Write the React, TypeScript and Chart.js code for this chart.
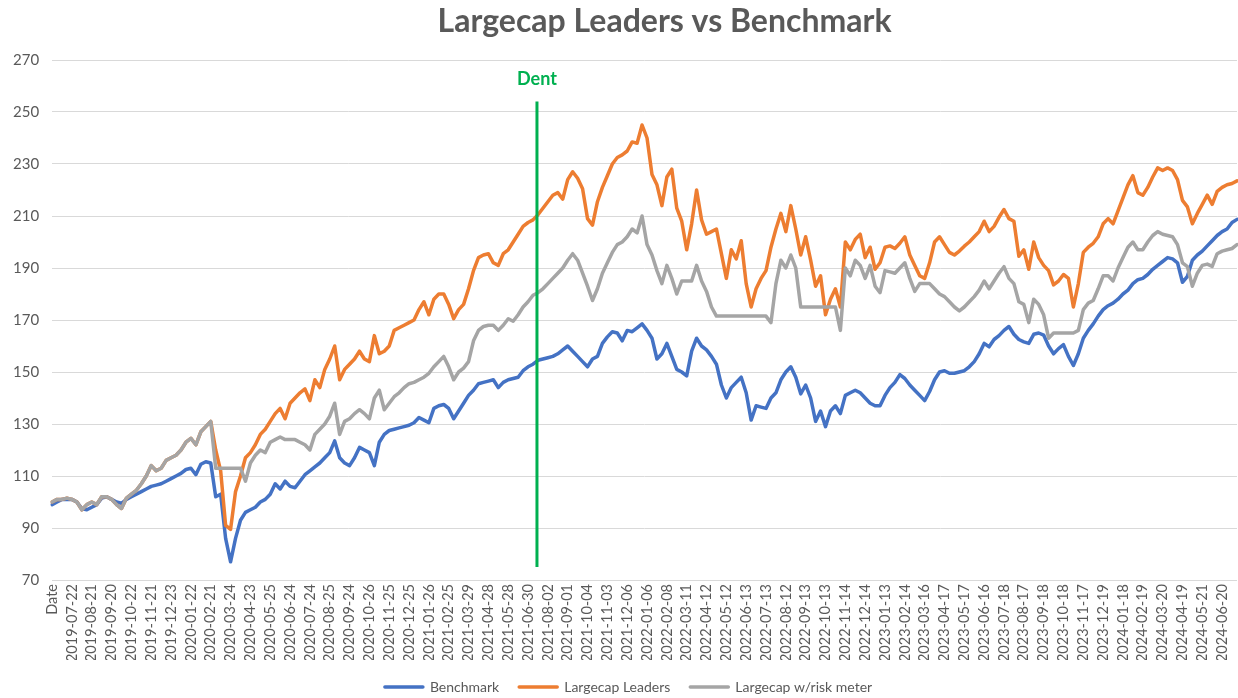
import React, { useEffect, useRef } from "react";
import { Chart, registerables } from "chart.js";

Chart.register(...registerables);

const TITLE = "Largecap Leaders vs Benchmark";
const DENT_LABEL = "Dent";

const tickLabels = [
  "Date", "2019-07-22", "2019-08-21", "2019-09-20", "2019-10-22", "2019-11-21", "2019-12-23",
  "2020-01-22", "2020-02-21", "2020-03-24", "2020-04-23", "2020-05-25", "2020-06-24", "2020-07-24",
  "2020-08-25", "2020-09-24", "2020-10-26", "2020-11-25", "2020-12-25", "2021-01-26", "2021-02-25",
  "2021-03-29", "2021-04-28", "2021-05-28", "2021-06-30", "2021-08-02", "2021-09-01", "2021-10-04",
  "2021-11-03", "2021-12-06", "2022-01-06", "2022-02-08", "2022-03-11", "2022-04-12", "2022-05-12",
  "2022-06-13", "2022-07-13", "2022-08-12", "2022-09-13", "2022-10-13", "2022-11-14", "2022-12-14",
  "2023-01-13", "2023-02-14", "2023-03-16", "2023-04-17", "2023-05-17", "2023-06-16", "2023-07-18",
  "2023-08-17", "2023-09-18", "2023-10-18", "2023-11-17", "2023-12-19", "2024-01-18", "2024-02-19",
  "2024-03-20", "2024-04-19", "2024-05-21", "2024-06-20",
];

// points between two consecutive tick labels
const POINTS_PER_TICK = 4;

const benchmark = [
  99, 100, 101, 101, 101, 100, 97.5, 97, 98, 99,
  101.5, 102, 101, 100, 99.5, 101, 102, 103, 104, 105,
  106, 106.5, 107, 108, 109, 110, 111, 112.5, 113, 110.5,
  114.5, 115.5, 115, 102, 103, 86, 77, 86, 93, 96,
  97, 98, 100, 101, 103, 107, 105, 108, 106, 105.5,
  108, 110.5, 112, 113.5, 115, 117, 119, 123.5, 117, 115,
  114, 117, 121, 120, 119, 114, 123, 126, 127.5, 128,
  128.5, 129, 129.5, 130.5, 132.5, 131.5, 130.5, 136, 137, 137.5,
  136, 132, 135, 138, 141, 143, 145.5, 146, 146.5, 147,
  144, 146, 147, 147.5, 148, 150.5, 152, 153, 154.5, 155,
  155.5, 156, 157, 158.5, 160, 158, 156, 154, 152, 155,
  156, 161, 163.5, 165.5, 165, 162, 166, 165.5, 167, 168.5,
  166, 163, 155, 157, 161, 156, 151, 150, 148.5, 158,
  163, 160, 158.5, 156, 153, 145, 140, 144, 146, 148,
  142, 131.5, 137, 136.5, 136, 140, 142, 147, 150, 152,
  148, 141.6, 145, 140, 131, 135, 129, 135, 137, 134,
  141, 142, 143, 142, 140, 138, 137, 137, 141, 144,
  146, 149, 147.5, 145, 143, 141, 139, 142.5, 147, 150,
  150.5, 149.5, 149.5, 150, 150.5, 152, 154, 157, 161, 159.7,
  162.5, 164, 166, 167.5, 164.5, 162.5, 161.6, 161, 164.5, 165,
  164.2, 160, 157, 159, 160.5, 156, 152.5, 157, 163, 166,
  168.5, 171.5, 174, 175.5, 176.5, 178, 180, 181.5, 184, 185.5,
  186, 187.5, 189.5, 191, 192.5, 194, 193.5, 192, 184.5, 186.8,
  193, 195, 196.5, 198.5, 200.5, 202.5, 204, 205, 207.5, 208.7,
];

const largecapLeaders = [
  100, 101, 101, 101.5, 101, 100, 97, 99, 100, 99,
  102, 102, 101, 99, 97.5, 101.5, 103, 104.5, 107, 110,
  114, 112, 113, 116, 117, 118, 120, 123, 124.5, 122,
  127, 129, 131, 120, 112, 91, 89.5, 104, 110, 117,
  119, 122, 126, 128, 131, 134, 136, 132, 138, 140,
  142, 143.5, 139, 147, 144, 151, 155, 160, 147, 151,
  153, 155, 158, 155, 154, 164, 157, 158, 160, 166,
  167, 168, 169, 170, 174, 177, 172, 178, 180, 180,
  176, 170.5, 174, 176, 182, 189, 194, 195, 195.5, 192,
  191, 195.5, 197, 200, 203, 206, 207.5, 208.5, 210.5, 213,
  215.5, 218, 219, 216.5, 224, 227, 224.5, 220.5, 209, 206.5,
  215.5, 221, 225.5, 230, 232.5, 233.5, 235, 238.5, 238, 245,
  240, 226, 222, 214, 225, 228, 213, 208, 197, 207,
  220, 208.5, 203, 204, 205, 195.5, 186, 197, 193.5, 200.5,
  184, 175, 182, 186, 189, 198, 205, 211, 204, 214,
  205, 195, 202, 193, 183, 187, 172, 178, 182, 175,
  200, 197, 201, 203, 194, 198, 189.5, 192, 198, 198.5,
  197.5, 199.5, 202, 195, 191, 187, 186, 192, 200, 202,
  199, 196, 195, 196.5, 198.4, 200, 202, 204, 208, 204,
  206, 209.5, 212.5, 209, 208, 194.5, 197, 189.5, 200, 194,
  191, 189, 183.5, 185, 187.5, 186, 175, 184, 196, 198,
  199.5, 202, 207, 209, 207, 212, 217, 222, 225.5, 219,
  218, 221, 225, 228.5, 227.5, 228.5, 227.5, 224, 216, 213.5,
  207, 211, 214.5, 218, 214.5, 219.5, 221, 222, 222.5, 223.5,
];

const largecapRiskMeter = [
  100, 101, 101, 101.5, 101, 100, 97, 99, 100, 99,
  102, 102, 101, 99, 97.5, 101.5, 103, 104.5, 107, 110,
  114, 112, 113, 116, 117, 118, 120, 123, 124.5, 122,
  127, 129, 131, 113, 113, 113, 113, 113, 113, 108,
  115, 118, 120, 119, 123, 124, 125, 124, 124, 124,
  123, 122, 120, 126, 128, 130, 133, 138, 126, 131,
  132, 134, 135.5, 134, 132, 140, 143, 135.5, 138, 140.5,
  142, 144, 145.5, 146, 147, 148, 149.5, 152, 154, 156,
  152, 147, 150, 151.5, 154, 162, 166, 167.5, 168, 168,
  166, 168, 170.5, 169.5, 172, 175, 177, 179.5, 180.5, 182,
  184, 186, 188, 190, 193, 195.5, 193, 188, 183, 177.5,
  182, 188, 192, 196, 199, 200, 202, 205, 203.5, 210,
  199, 195, 189, 184, 191, 186, 180, 185, 185, 185,
  191, 185, 181, 175, 171.5, 171.5, 171.5, 171.5, 171.5, 171.5,
  171.5, 171.5, 171.5, 171.5, 171.5, 169, 184, 193, 190, 195,
  190, 175, 175, 175, 175, 175, 175, 175, 175, 166,
  190, 187, 193, 191, 186, 191, 183, 180.5, 189, 188.5,
  188, 190, 192, 186, 181, 184, 184, 184, 182, 180,
  179, 177, 175, 173.5, 175, 177, 179, 181.5, 185, 182,
  185, 188, 190.5, 186, 184, 177, 176, 169, 178, 176,
  172, 163, 165, 165, 165, 165, 165, 166, 174, 176.5,
  177.5, 182, 187, 187, 185, 190, 194, 198, 200, 197,
  197, 200, 202.5, 204, 203, 202.5, 202, 199, 192, 190.5,
  183, 188, 191, 191.5, 190.6, 195.5, 196.5, 197, 197.5, 199,
];

// Dent marker: position along the category axis (point index) and vertical extent (values)
const DENT_INDEX = 97.8;
const DENT_TOP = 254;
const DENT_BOTTOM = 75;

const Y_MIN = 70;
const Y_MAX = 270;
const Y_STEP = 20;

const categories = benchmark.map((_, i) =>
  i % POINTS_PER_TICK === 0 && i / POINTS_PER_TICK < tickLabels.length
    ? tickLabels[i / POINTS_PER_TICK]
    : ""
);

const COLORS = {
  benchmark: "#4472C4",
  leaders: "#ED7D31",
  risk: "#A5A5A5",
  dent: "#00B050",
  text: "#595959",
  grid: "#D9D9D9",
};

const FONT = "Lato";
const LEGEND_SHIFT = 10;

const overlayPlugin = {
  id: "overlay",
  afterLayout(chart: any) {
    if (chart.legend) {
      chart.legend.left += LEGEND_SHIFT;
      chart.legend.right += LEGEND_SHIFT;
    }
  },
  afterDatasetsDraw(chart: any) {
    const { ctx, scales, chartArea } = chart;
    const x = scales.x.getPixelForValue(DENT_INDEX);
    const yTop = scales.y.getPixelForValue(DENT_TOP);
    const yBottom = scales.y.getPixelForValue(DENT_BOTTOM);
    ctx.save();
    ctx.strokeStyle = COLORS.dent;
    ctx.lineWidth = 3;
    ctx.beginPath();
    ctx.moveTo(x, yTop);
    ctx.lineTo(x, yBottom);
    ctx.stroke();
    ctx.fillStyle = COLORS.dent;
    ctx.font = `bold 18px ${FONT}`;
    ctx.textAlign = "center";
    ctx.textBaseline = "middle";
    ctx.fillText(DENT_LABEL, x, yTop - 22);

    ctx.fillStyle = COLORS.text;
    ctx.font = `bold 32px ${FONT}`;
    ctx.fillText(TITLE, (chartArea.left + chartArea.right) / 2 + 20, chartArea.top - 38);
    ctx.restore();
  },
};

export default function App() {
  const canvasRef = useRef<HTMLCanvasElement | null>(null);

  useEffect(() => {
    document.body.style.margin = "0";
    const canvas = canvasRef.current;
    if (!canvas) return;

    const common = {
      pointRadius: 0,
      pointHoverRadius: 0,
      borderWidth: 3.5,
      tension: 0,
      borderJoinStyle: "round" as const,
      borderCapStyle: "round" as const,
      fill: false,
    };

    const chart = new Chart(canvas, {
      type: "line",
      data: {
        labels: categories,
        datasets: [
          {
            label: "Largecap w/risk meter",
            data: largecapRiskMeter,
            borderColor: COLORS.risk,
            backgroundColor: COLORS.risk,
            ...common,
          },
          {
            label: "Largecap Leaders",
            data: largecapLeaders,
            borderColor: COLORS.leaders,
            backgroundColor: COLORS.leaders,
            ...common,
          },
          {
            label: "Benchmark",
            data: benchmark,
            borderColor: COLORS.benchmark,
            backgroundColor: COLORS.benchmark,
            ...common,
          },
        ],
      },
      options: {
        responsive: false,
        animation: false,
        layout: { padding: { top: 60, left: 0, right: 1, bottom: -6 } },
        plugins: {
          title: { display: false },
          tooltip: { enabled: false },
          legend: {
            position: "bottom",
            reverse: true,
            labels: {
              boxWidth: 38,
              boxHeight: 0,
              padding: 20,
              color: COLORS.text,
              font: { family: FONT, size: 14 },
            },
          },
        },
        scales: {
          x: {
            type: "category",
            grid: { display: false, drawTicks: false },
            border: { display: false },
            ticks: {
              autoSkip: false,
              maxRotation: 90,
              minRotation: 90,
              padding: 4,
              color: COLORS.text,
              font: { family: FONT, size: 14.5 },
            },
            afterFit(scale: any) {
              scale.height = 80;
              scale.paddingLeft = 0;
              scale.paddingRight = 0;
            },
          },
          y: {
            min: Y_MIN,
            max: Y_MAX,
            grid: { color: COLORS.grid, lineWidth: 1, drawTicks: false },
            border: { display: false },
            ticks: {
              stepSize: Y_STEP,
              padding: 13,
              color: COLORS.text,
              font: { family: FONT, size: 15 },
            },
          },
        },
      },
      plugins: [overlayPlugin],
    });

    return () => chart.destroy();
  }, []);

  return (
    <div style={{ width: 1238, height: 698 }}>
      <canvas ref={canvasRef} width={1238} height={698} />
    </div>
  );
}
